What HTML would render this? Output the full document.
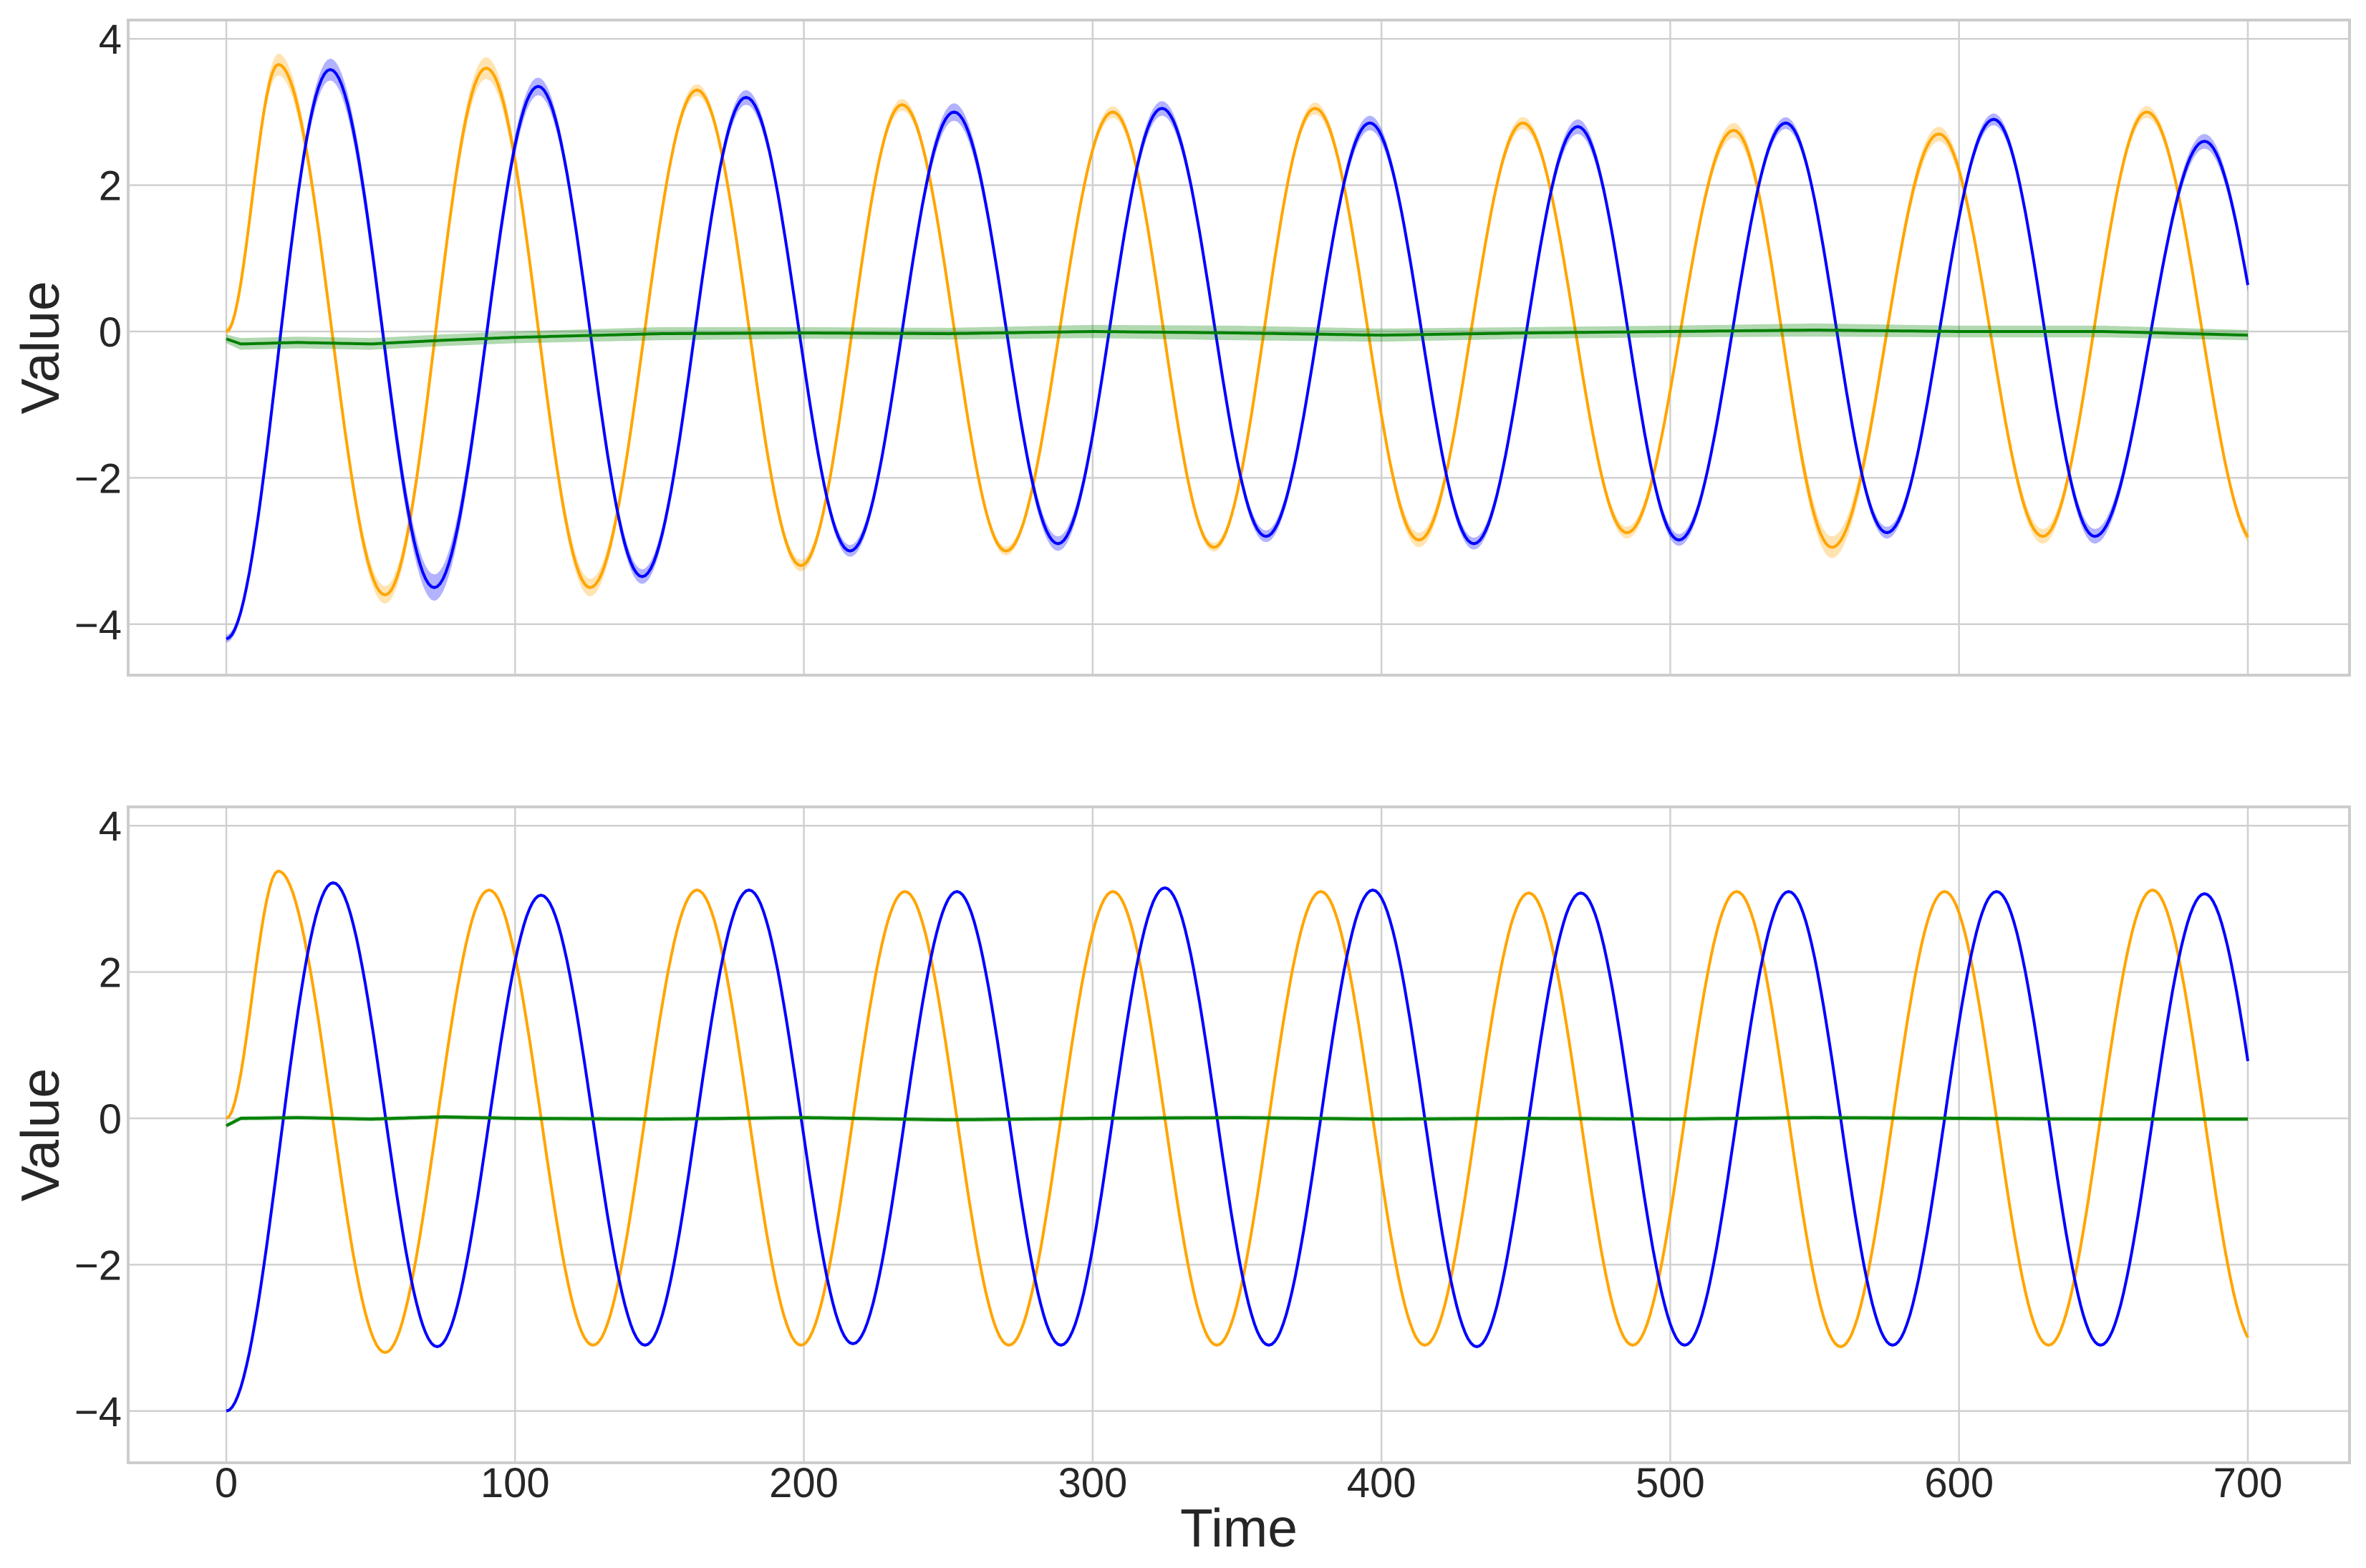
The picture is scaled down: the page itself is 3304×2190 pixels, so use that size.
<!DOCTYPE html>
<html><head><meta charset="utf-8"><style>
html,body{margin:0;padding:0;background:#fff}
svg{display:block}
text{font-family:"Liberation Sans",sans-serif;fill:#262626}
</style></head><body>
<svg id="fig" width="3304" height="2190" viewBox="0 0 3304 2190" xmlns="http://www.w3.org/2000/svg"></svg>
<script>
// ---- data (keyframes: time, value) ----
const xTicks=[0,100,200,300,400,500,600,700];
const yTicks=[-4,-2,0,2,4];
// top panel
const topOrangeT=[-18,0,18,55,90,126,163,199,234,270,307,342,377,413,449,485,522,556,593,629,665,703];
const topOrangeV=[-3.6,0,3.65,-3.6,3.6,-3.5,3.3,-3.2,3.1,-3.0,3.0,-2.95,3.05,-2.85,2.85,-2.75,2.75,-2.95,2.7,-2.8,3.0,-2.9];
const topOrangeBand=[0.1,0.05,0.15,0.12,0.15,0.12,0.08,0.08,0.08,0.06,0.08,0.06,0.08,0.1,0.08,0.08,0.1,0.15,0.1,0.1,0.08,0.08];
const topBlueT=[0,36,72,108,144,180,216,252,288,324,360,396,432,468,503,540,575,612,647,685,721];
const topBlueV=[-4.2,3.58,-3.5,3.35,-3.35,3.2,-3.0,3.0,-2.9,3.05,-2.8,2.85,-2.9,2.8,-2.85,2.85,-2.75,2.9,-2.8,2.6,-2.7];
const topBlueBand=[0.05,0.15,0.18,0.12,0.1,0.1,0.08,0.12,0.1,0.1,0.08,0.1,0.08,0.1,0.08,0.08,0.08,0.08,0.1,0.1,0.1];
const greenT=[0,5,25,50,75,100,150,200,250,300,350,400,450,500,550,600,650,700];
const topGreenV=[-0.1,-0.17,-0.15,-0.17,-0.12,-0.08,-0.03,-0.02,-0.03,0.0,-0.02,-0.05,-0.02,0.0,0.02,0.0,0.0,-0.05];
const topGreenBand=[0.06,0.08,0.08,0.08,0.08,0.08,0.09,0.08,0.08,0.09,0.1,0.09,0.08,0.08,0.09,0.08,0.08,0.07];
// bottom panel
const botOrangeT=[-18,0,18,55,91,127,163,199,235,271,307,343,379,415,451,487,523,559,595,631,667,703];
const botOrangeV=[-3.2,0,3.38,-3.2,3.12,-3.1,3.12,-3.1,3.1,-3.1,3.1,-3.1,3.1,-3.1,3.08,-3.1,3.1,-3.12,3.1,-3.1,3.12,-3.1];
const botBlueT=[0,37,73,109,145,181,217,253,289,325,361,397,433,469,505,541,577,613,649,685,721];
const botBlueV=[-4.0,3.22,-3.12,3.05,-3.1,3.12,-3.08,3.1,-3.1,3.15,-3.1,3.12,-3.12,3.08,-3.1,3.1,-3.1,3.1,-3.1,3.07,-3.1];
const botGreenV=[-0.1,0.0,0.01,-0.01,0.02,0.0,-0.01,0.01,-0.02,0.0,0.01,-0.01,0.0,-0.01,0.01,0.0,-0.01,-0.01];
// ---- layout ----
const NS='http://www.w3.org/2000/svg';
const svg=document.getElementById('fig');
const X0=316,X1=3139,AX_L=179,AX_R=3281;
function xs(t){return X0+(X1-X0)*t/700;}
const panels=[{top:28,bot:943,zero:463,name:'top'},{top:1127,bot:2043,zero:1562,name:'bottom'}];
const PXU=102.2;
function mk(tag,attrs,parent){const e=document.createElementNS(NS,tag);for(const k in attrs)e.setAttribute(k,attrs[k]);(parent||svg).appendChild(e);return e;}
function interp(T,V,t){
  for(let i=0;i<T.length-1;i++){if(t>=T[i]&&t<=T[i+1]){const s=(t-T[i])/(T[i+1]-T[i]);const e=(1-Math.cos(Math.PI*s))/2;return V[i]+(V[i+1]-V[i])*e;}}
  return t<T[0]?V[0]:V[V.length-1];
}
function lin(T,V,t){
  for(let i=0;i<T.length-1;i++){if(t>=T[i]&&t<=T[i+1]){const s=(t-T[i])/(T[i+1]-T[i]);return V[i]+(V[i+1]-V[i])*s;}}
  return t<T[0]?V[0]:V[V.length-1];
}
panels.forEach((p,pi)=>{
  const g=mk('g',{});
  
  
  const ys=v=>p.zero-PXU*v;
  // grid
  xTicks.forEach(t=>{const l=mk('line',{x1:xs(t),x2:xs(t),y1:p.top,y2:p.bot,stroke:'#d0d0d0','stroke-width':2.5},g);});
  yTicks.forEach(v=>{const l=mk('line',{x1:AX_L,x2:AX_R,y1:ys(v),y2:ys(v),stroke:'#d0d0d0','stroke-width':2.5},g);
    const tx=mk('text',{x:170,y:ys(v)+21,'text-anchor':'end','font-size':58},g);tx.textContent=(v<0?'\u2212':'')+Math.abs(v);});
  const yl=mk('text',{x:0,y:0,'font-size':75,'text-anchor':'middle',transform:`translate(82,${(p.top+p.bot)/2}) rotate(-90)`},g);
  yl.textContent='Value';
  const series=pi===0?[
    {T:topOrangeT,V:topOrangeV,B:topOrangeBand,c:'#FFA500',n:'orange'},
    {T:topBlueT,V:topBlueV,B:topBlueBand,c:'#0000FF',n:'blue'},
    {T:greenT,V:topGreenV,B:topGreenBand,c:'#008000',n:'green',lin:true}]:[
    {T:botOrangeT,V:botOrangeV,B:null,c:'#FFA500',n:'orange'},
    {T:botBlueT,V:botBlueV,B:null,c:'#0000FF',n:'blue'},
    {T:greenT,V:botGreenV,B:null,c:'#008000',n:'green',lin:true}];
  series.forEach(s=>{
    const f=s.lin?lin:interp;
    let up=[],dn=[],ln=[];
    for(let t=0;t<=700;t+=1){
      const v=f(s.T,s.V,t);
      const b=s.B?lin(s.T,s.B,t):(s.n==='green'?0.03:0.02);
      ln.push(xs(t).toFixed(1)+','+ys(v).toFixed(1));
      up.push(xs(t).toFixed(1)+','+ys(v+b).toFixed(1));
      dn.unshift(xs(t).toFixed(1)+','+ys(v-b).toFixed(1));
    }
    const band=mk('polygon',{points:up.concat(dn).join(' '),fill:s.c,'fill-opacity':0.3,stroke:'none'},g);
    
    const pl=mk('polyline',{points:ln.join(' '),fill:'none',stroke:s.c,'stroke-width':4,'stroke-linejoin':'round'},g);
    
  });
  const fr=mk('rect',{x:AX_L,y:p.top,width:AX_R-AX_L,height:p.bot-p.top,fill:'none',stroke:'#cccccc','stroke-width':4},g);
  
  if(pi===1){
    xTicks.forEach(t=>{const tx=mk('text',{x:xs(t),y:2091,'text-anchor':'middle','font-size':58},g);tx.textContent=t;});
    const xl=mk('text',{x:1730,y:2160,'text-anchor':'middle','font-size':75},g);xl.textContent='Time';
  }
});
</script>
</body></html>
